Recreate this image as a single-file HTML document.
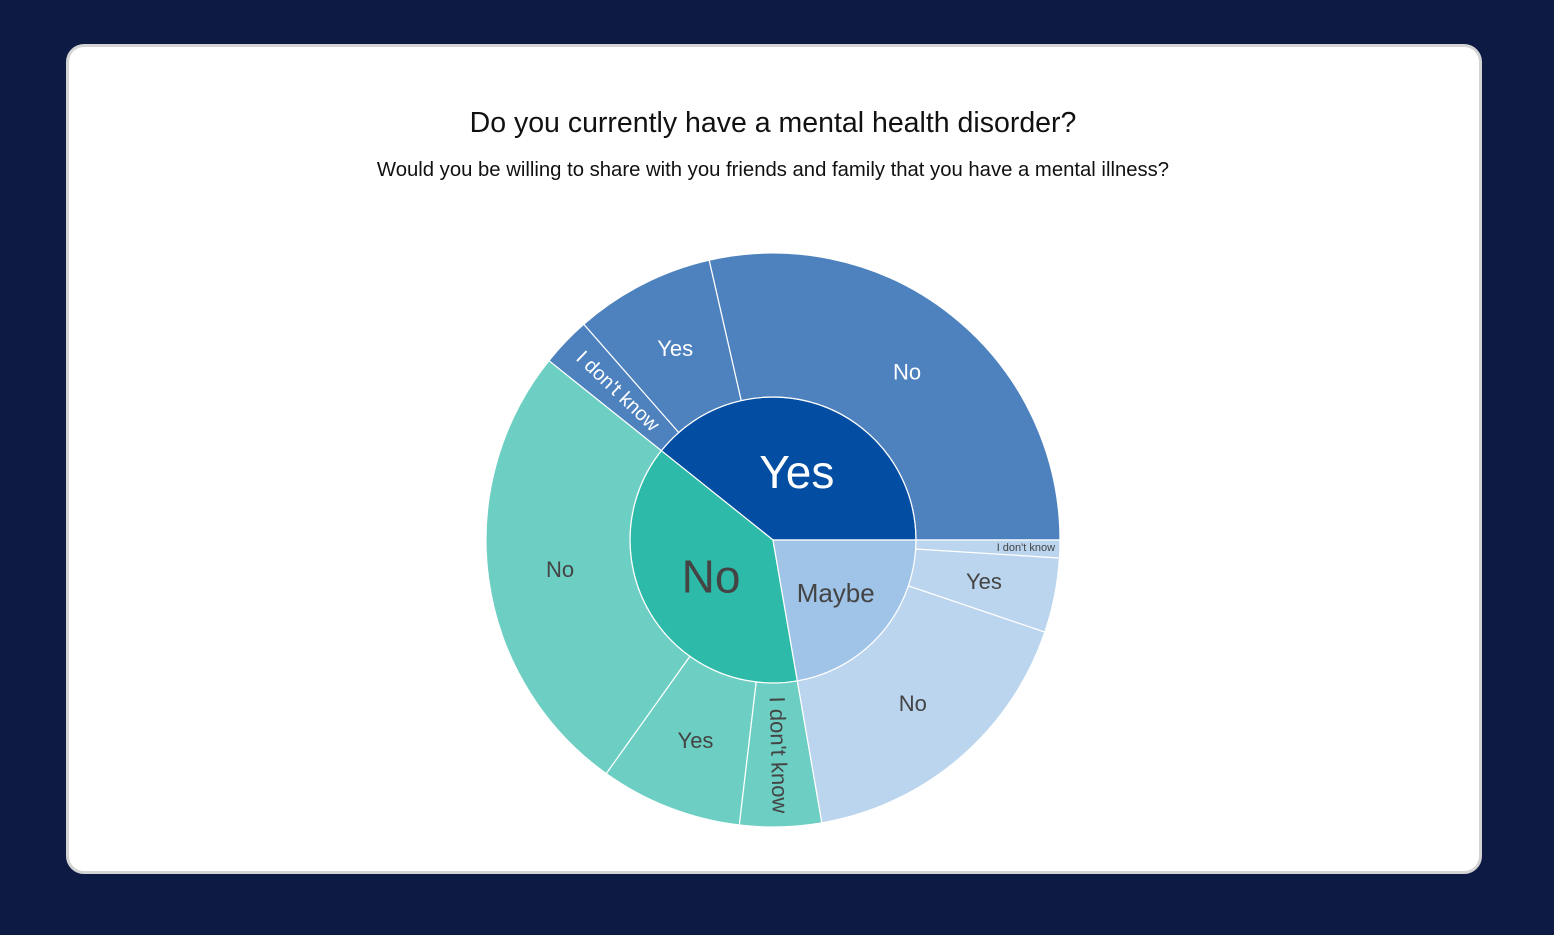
<!DOCTYPE html>
<html><head><meta charset="utf-8"><style>
body{margin:0;background:#0c1a44;width:1554px;height:935px;overflow:hidden;font-family:"Liberation Sans",sans-serif}
#card{position:absolute;left:66px;top:44px;width:1410px;height:824px;background:#fff;border:3px solid #d4d4d4;border-radius:18px}
</style></head><body>
<div id="card"></div>
<svg id="svg" width="1554" height="935" style="position:absolute;left:0;top:0">
<text x="773" y="132" text-anchor="middle" font-size="28.5" fill="#111">Do you currently have a mental health disorder?</text>
<text x="773" y="176" text-anchor="middle" font-size="20.3" fill="#111">Would you be willing to share with you friends and family that you have a mental illness?</text>
</svg>
<script>
const parents = ["Yes","No","Maybe"];
const children = ["No","Yes","I don't know"];
const yesValues = [286,79,28];
const noValues = [259,80,46];
const maybeValues = [171,42,10];
const innerColors = ["#034ea2","#2ebaa8","#a0c3e8"];
const outerColors = ["#4d82bf","#6dcfc3","#bbd5ee"];
const textColors = ["#fff","#444","#444"];
const all=[yesValues,noValues,maybeValues];
const svg=document.getElementById('svg');const NS="http://www.w3.org/2000/svg";
const cx=773,cy=540,r1=143,r2=287;
const total=all.flat().reduce((a,b)=>a+b,0);
function pt(r,a){const t=a*Math.PI/180;return [cx+r*Math.cos(t),cy-r*Math.sin(t)];}
function arc(ri,ro,a0,a1){const L=(a1-a0)>180?1:0;const p=[pt(ro,a0),pt(ro,a1),pt(ri,a1),pt(ri,a0)];
 if(ri===0)return `M${cx},${cy}L${p[0]}A${ro},${ro} 0 ${L} 0 ${p[1]}Z`;
 return `M${p[0]}A${ro},${ro} 0 ${L} 0 ${p[1]}L${p[2]}A${ri},${ri} 0 ${L} 1 ${p[3]}Z`;}
function txt(x,y,s,fs,fill,rot,name){const t=document.createElementNS(NS,'text');
 t.setAttribute('x',x);t.setAttribute('y',y);t.setAttribute('font-size',fs);t.setAttribute('fill',fill);
 t.setAttribute('text-anchor','middle');t.setAttribute('dominant-baseline','central');
 if(rot)t.setAttribute('transform',`rotate(${rot} ${x} ${y})`);t.textContent=s;
 
 
 svg.appendChild(t);}
let a=0;
parents.forEach((p,i)=>{const sum=all[i].reduce((x,y)=>x+y,0);const span=sum/total*360;const a0=a;
 const path=document.createElementNS(NS,'path');path.setAttribute('d',arc(0,r1,a0,a0+span));
 path.setAttribute('fill',innerColors[i]);path.setAttribute('stroke','#fff');path.setAttribute('stroke-width','1.2');
 
 
 svg.appendChild(path);
 let b=a0;
 all[i].forEach((v,j)=>{const s=v/total*360;
  const q=document.createElementNS(NS,'path');q.setAttribute('d',arc(r1,r2,b,b+s));
  q.setAttribute('fill',outerColors[i]);q.setAttribute('stroke','#fff');q.setAttribute('stroke-width','1.2');
  
  
  svg.appendChild(q);
  const m=b+s/2;
  if(s<4){const [x,y]=pt(r2-34,m);txt(x,y,children[j],11,textColors[i],0,'outer-label');}
  else if(children[j]==="I don't know"){const [x,y]=pt(215,m);let r=-m;while(r<=-180)r+=360;while(r>180)r-=360;if(Math.abs(r)>90)r+=180;txt(x,y,children[j],s<12?20:22,textColors[i],r,'outer-label');}
  else{const [x,y]=pt(215,m);txt(x,y,children[j],22,textColors[i],0,'outer-label');}
  b+=s;});
 const m=a0+span/2;const [x,y]=pt(span<100?82:72,m);
 txt(x,y,p,span<100?26:46,textColors[i],0,'inner-label');
 a+=span;});
</script>
</body></html>
